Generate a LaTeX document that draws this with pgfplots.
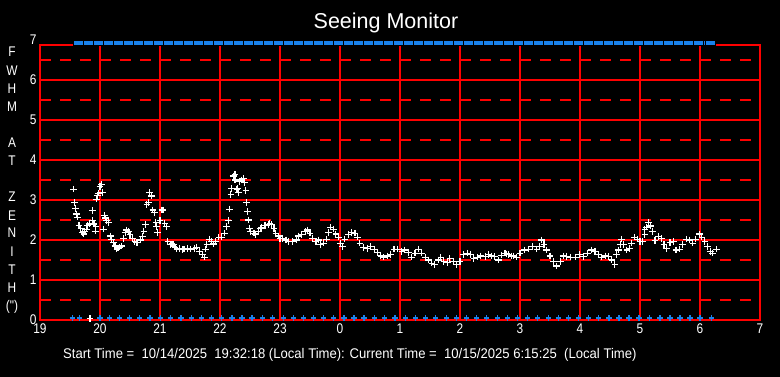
\documentclass[border=0pt]{standalone}
\usepackage{fontspec}
\setmainfont{Liberation Sans}
\newfontfamily\lab{Liberation Sans}[FakeStretch=0.85]
\newfontfamily\labw{Liberation Sans}[FakeStretch=0.935]
\usepackage{pgfplots}
\pgfplotsset{compat=1.18}
\usepackage{pgfplotstable}
\definecolor{mblue}{RGB}{25,130,235}

\pgfplotstableread{
x y
19.556 3.27
19.572 2.94
19.590 2.79
19.610 2.65
19.620 2.57
19.650 2.37
19.680 2.29
19.710 2.19
19.730 2.15
19.740 2.21
19.770 2.27
19.795 2.36
19.820 2.40
19.833 0.04
19.870 2.73
19.870 2.48
19.900 2.40
19.920 2.22
19.930 2.33
19.940 3.02
19.955 3.11
19.970 3.17
20.000 3.33
20.020 3.39
20.040 3.19
20.060 2.27
20.070 2.61
20.090 2.55
20.105 2.48
20.140 2.43
20.170 2.10
20.190 2.02
20.220 1.93
20.250 1.85
20.280 1.77
20.300 1.80
20.320 1.82
20.360 1.85
20.390 2.03
20.420 2.18
20.440 2.25
20.470 2.21
20.500 2.13
20.545 2.04
20.580 1.96
20.610 1.93
20.630 1.93
20.670 2.00
20.705 2.08
20.730 2.22
20.755 2.39
20.780 2.88
20.805 2.93
20.820 3.19
20.860 3.10
20.880 2.75
20.905 2.69
20.930 2.43
20.940 2.33
20.960 2.18
21.000 2.48
21.030 2.75
21.050 2.75
21.080 2.42
21.110 2.33
21.130 1.96
21.170 1.88
21.200 1.90
21.220 1.88
21.250 1.82
21.280 1.77
21.330 1.79
21.370 1.76
21.400 1.77
21.455 1.79
21.510 1.77
21.570 1.79
21.610 1.82
21.655 1.71
21.705 1.63
21.740 1.57
21.760 1.77
21.780 1.88
21.820 2.02
21.860 1.96
21.890 1.90
21.930 1.96
21.980 2.07
22.030 2.07
22.070 2.17
22.110 2.33
22.140 2.48
22.155 2.77
22.180 3.14
22.195 3.29
22.220 3.60
22.250 3.64
22.250 3.50
22.280 3.27
22.290 3.29
22.305 3.19
22.320 3.46
22.360 3.50
22.390 3.54
22.405 3.43
22.430 3.23
22.445 2.94
22.460 2.71
22.470 2.50
22.490 2.29
22.510 2.21
22.555 2.17
22.580 2.17
22.595 2.13
22.640 2.22
22.670 2.28
22.695 2.31
22.750 2.36
22.805 2.39
22.830 2.42
22.860 2.38
22.900 2.29
22.930 2.17
22.970 2.10
23.000 2.04
23.045 2.04
23.100 2.00
23.140 1.96
23.210 1.96
23.270 2.00
23.305 2.10
23.360 2.13
23.420 2.21
23.455 2.25
23.500 2.17
23.545 2.04
23.600 1.96
23.640 2.00
23.670 1.89
23.720 1.92
23.770 2.02
23.805 2.18
23.845 2.32
23.890 2.27
23.930 2.15
23.970 2.07
24.010 1.92
24.045 1.83
24.080 2.02
24.140 2.13
24.195 2.18
24.250 2.17
24.290 2.07
24.330 1.92
24.390 1.81
24.455 1.79
24.510 1.83
24.570 1.77
24.620 1.68
24.680 1.60
24.730 1.57
24.790 1.60
24.845 1.63
24.900 1.77
24.955 1.77
25.030 1.71
25.080 1.75
25.140 1.68
25.195 1.57
25.250 1.67
25.305 1.77
25.360 1.67
25.420 1.57
25.470 1.50
25.530 1.42
25.580 1.38
25.640 1.50
25.680 1.57
25.730 1.46
25.790 1.43
25.830 1.54
25.890 1.46
25.945 1.38
26.000 1.46
26.055 1.63
26.120 1.67
26.180 1.63
26.230 1.54
26.290 1.57
26.345 1.60
26.420 1.58
26.470 1.63
26.530 1.60
26.580 1.58
26.640 1.50
26.695 1.62
26.750 1.67
26.780 1.65
26.805 1.63
26.860 1.60
26.890 1.60
26.945 1.57
27.000 1.67
27.070 1.75
27.140 1.77
27.210 1.83
27.280 1.77
27.320 1.83
27.360 2.00
27.400 1.88
27.445 1.75
27.500 1.60
27.555 1.46
27.610 1.35
27.670 1.46
27.720 1.60
27.780 1.58
27.845 1.57
27.920 1.57
27.990 1.63
28.055 1.58
28.120 1.67
28.195 1.75
28.250 1.71
28.305 1.63
28.360 1.57
28.420 1.60
28.470 1.58
28.530 1.50
28.580 1.38
28.610 1.63
28.640 1.75
28.670 1.88
28.695 2.02
28.730 1.88
28.780 1.75
28.830 1.79
28.860 1.92
28.905 2.07
28.955 2.02
29.000 1.96
29.045 1.96
29.080 2.13
29.080 2.27
29.110 2.32
29.140 2.43
29.170 2.35
29.210 2.21
29.250 1.98
29.305 2.08
29.360 2.04
29.400 1.88
29.445 1.79
29.500 1.93
29.555 1.96
29.600 1.75
29.655 1.77
29.710 1.88
29.770 2.02
29.820 2.00
29.880 1.92
29.930 2.02
29.990 2.15
30.030 2.07
30.080 1.96
30.120 1.83
30.170 1.71
30.210 1.67
30.270 1.77
}\seeing

\begin{document}
\begin{tikzpicture}
\useasboundingbox (0pt,0pt) rectangle (780pt,377pt);
\fill[black] (0pt,0pt) rectangle (780pt,377pt);
\begin{axis}[
  at={(40pt,57pt)}, anchor=south west,
  scale only axis, width=720pt, height=275pt,
  xmin=19, xmax=31, ymin=0, ymax=6.875,
  clip=false,
  axis line style={red, line width=1.2pt},
  xtick={19,...,31}, xticklabels={19,20,21,22,23,0,1,2,3,4,5,6,7},
  ytick={0,...,6},
  major tick length=0pt,
  tick label style={font=\lab\fontsize{14}{14}\selectfont, text=white},
  /pgf/number format/assume math mode=true,
]
\pgfplotsinvokeforeach{20,...,30}{
  \fill[red] ([xshift=-0.6pt]axis cs:#1,0) rectangle ([xshift=0.6pt]axis cs:#1,6.875);
}
\pgfplotsinvokeforeach{1,...,6}{
  \fill[red] ([yshift=-0.6pt]axis cs:19,#1) rectangle ([yshift=0.6pt]axis cs:31,#1);
}
\pgfplotsinvokeforeach{0.5,1.5,2.5,3.5,4.5,5.5,6.5}{
  \draw[color=red, line width=1.2pt, dash pattern=on 10.5pt off 9.5pt] (axis cs:19,#1) -- (axis cs:31,#1);
}
\addplot[only marks, mark=square*, mark size=2.6pt, mark options={xscale=1.88, draw=none, fill=mblue}] coordinates {
(19.633,6.9375) (19.800,6.9375) (19.967,6.9375) (20.133,6.9375) (20.300,6.9375) (20.467,6.9375) (20.633,6.9375) (20.800,6.9375) (20.967,6.9375) (21.133,6.9375) (21.300,6.9375) (21.467,6.9375) (21.633,6.9375) (21.800,6.9375) (21.967,6.9375) (22.133,6.9375) (22.300,6.9375) (22.467,6.9375) (22.633,6.9375) (22.800,6.9375) (22.967,6.9375) (23.133,6.9375) (23.300,6.9375) (23.467,6.9375) (23.633,6.9375) (23.800,6.9375) (23.967,6.9375) (24.133,6.9375) (24.300,6.9375) (24.467,6.9375) (24.633,6.9375) (24.800,6.9375) (24.967,6.9375) (25.133,6.9375) (25.300,6.9375) (25.467,6.9375) (25.633,6.9375) (25.800,6.9375) (25.967,6.9375) (26.133,6.9375) (26.300,6.9375) (26.467,6.9375) (26.633,6.9375) (26.800,6.9375) (26.967,6.9375) (27.133,6.9375) (27.300,6.9375) (27.467,6.9375) (27.633,6.9375) (27.800,6.9375) (27.967,6.9375) (28.133,6.9375) (28.300,6.9375) (28.467,6.9375) (28.633,6.9375) (28.800,6.9375) (28.967,6.9375) (29.133,6.9375) (29.300,6.9375) (29.467,6.9375) (29.633,6.9375) (29.800,6.9375) (29.967,6.9375) (30.133,6.9375) (30.170,6.9375)
};
\addplot[only marks, mark=+, mark size=2.6pt, mark options={draw=mblue, line width=1.3pt}] coordinates {
(19.538,0.05) (19.655,0.05) (20.000,0.05) (20.162,0.05) (20.328,0.05) (20.495,0.05) (20.662,0.05) (20.833,0.05) (21.005,0.05) (21.178,0.05) (21.350,0.05) (21.522,0.05) (21.695,0.05) (21.862,0.05) (22.028,0.05) (22.200,0.05) (22.367,0.05) (22.533,0.05) (22.705,0.05) (22.872,0.05) (23.055,0.05) (23.222,0.05) (23.388,0.05) (23.555,0.05) (23.722,0.05) (23.888,0.05) (24.067,0.05) (24.233,0.05) (24.400,0.05) (24.572,0.05) (24.738,0.05) (24.917,0.05) (25.095,0.05) (25.262,0.05) (25.428,0.05) (25.595,0.05) (25.778,0.05) (25.945,0.05) (26.112,0.05) (26.278,0.05) (26.445,0.05) (26.622,0.05) (26.788,0.05) (26.955,0.05) (27.122,0.05) (27.295,0.05) (27.472,0.05) (27.638,0.05) (27.805,0.05) (27.972,0.05) (28.138,0.05) (28.305,0.05) (28.483,0.05) (28.650,0.05) (28.817,0.05) (28.983,0.05) (29.155,0.05) (29.333,0.05) (29.500,0.05) (29.667,0.05) (29.833,0.05) (30.000,0.05) (30.195,0.05)
};
\addplot[only marks, mark=+, mark size=3.3pt, mark options={draw=white, line width=1.15pt}] table {\seeing};
\end{axis}
\node[text=white, font=\fontsize{21.5}{21.5}\selectfont] at (386pt,354pt) {Seeing Monitor};
\node[text=white, font=\lab\fontsize{14}{14}\selectfont, anchor=east] at (40pt,337pt) {7};
\node[text=white, font=\labw\fontsize{14}{14}\selectfont, anchor=west, inner sep=0pt] at (63pt,22pt) {Start Time =\ \ 10/14/2025\ \ 19:32:18 (Local Time): Current Time =\ \ 10/15/2025 6:15:25\ \ (Local Time)};
\foreach \l/\yy in {F/325, W/306, H/288, M/270, A/234, T/216.5, Z/180, E/161, N/144, I/125, T/107, H/89} {
  \node[text=white, font=\lab\fontsize{14}{14}\selectfont] at (12pt,\yy pt) {\l};
}
\node[text=white, font=\lab\fontsize{14}{14}\selectfont] at (12pt,70pt) {(\symbol{34})};
\end{tikzpicture}
\end{document}
